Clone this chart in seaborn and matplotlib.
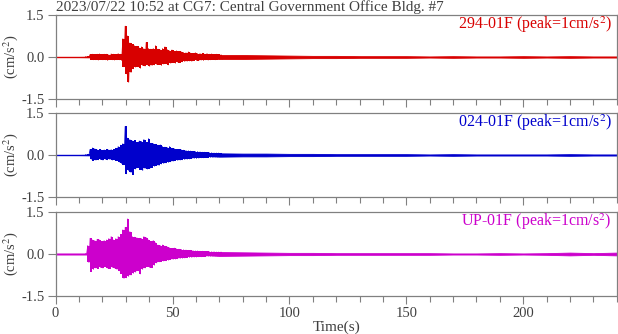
import numpy as np
import matplotlib
matplotlib.use('Agg')
import matplotlib.pyplot as plt
import seaborn as sns
from matplotlib.ticker import MultipleLocator, FixedLocator

title = '2023/07/22 10:52 at CG7: Central Government Office Bldg. #7'
channels = ['294-01F', '024-01F', 'UP-01F']
colors = ['#d80000', '#0000cc', '#cc00cc']

# strong-motion part: max / min of the trace for each second, from 13 s on
active_start = 13
red_hi = [.01, .02, .09, .10, .09, .10, .11, .09, .10, .10, .08, .11, .10, .09, .12, .10,
          .65, 1.10, .75, .50, .45, .40, .38, .32, .36, .30, .52, .30, .28, .30,
          .40, .28, .25, .30, .36, .26, .22, .25, .20, .22, .20, .18, .16, .15,
          .18, .14, .13, .15, .12, .12, .13, .10, .12, .10, .11, .09, .10, .09, .08]
red_lo = [-.01, -.02, -.09, -.10, -.10, -.11, -.09, -.10, -.10, -.12, -.09, -.10, -.11, -.10, -.10, -.12,
          -.35, -.60, -.90, -.55, -.42, -.36, -.35, -.40, -.30, -.32, -.28, -.33, -.30, -.28,
          -.26, -.27, -.30, -.25, -.24, -.28, -.22, -.20, -.22, -.18, -.20, -.17, -.16, -.15,
          -.14, -.15, -.13, -.12, -.13, -.11, -.12, -.10, -.11, -.10, -.09, -.10, -.09, -.08, -.08]
blue_hi = [.01, .02, .20, .25, .22, .18, .20, .17, .18, .20, .18, .19, .20, .24, .30, .35,
           .40, 1.02, .60, .55, .50, .52, .45, .50, .48, .55, .45, .58, .42, .40,
           .38, .35, .36, .30, .28, .26, .30, .24, .22, .20, .20, .18, .17, .16,
           .15, .14, .13, .12, .12, .11, .10, .10, .09, .08, .08, .07, .07, .07, .06]
blue_lo = [-.01, -.02, -.15, -.20, -.18, -.17, -.16, -.18, -.15, -.17, -.16, -.18, -.17, -.20, -.25, -.30,
           -.35, -.67, -.55, -.62, -.70, -.50, -.45, -.52, -.55, -.48, -.50, -.49, -.45, -.40,
           -.38, -.37, -.32, -.30, -.28, -.26, -.24, -.22, -.20, -.19, -.18, -.17, -.16, -.15,
           -.14, -.13, -.12, -.12, -.11, -.10, -.10, -.09, -.09, -.08, -.08, -.07, -.07, -.06, -.06]
mag_hi = [.01, .30, .56, .50, .48, .52, .50, .45, .48, .50, .55, .62, .50, .55, .62, .70,
          .86, .95, 1.25, .80, .62, .60, .58, .56, .55, .62, .58, .50, .45, .48,
          .40, .32, .30, .32, .28, .25, .22, .20, .21, .18, .17, .16, .15, .14,
          .13, .13, .12, .11, .11, .10, .10, .09, .09, .08, .08, .08, .07, .07, .07]
mag_lo = [-.01, -.30, -.63, -.55, -.50, -.52, -.48, -.50, -.45, -.50, -.52, -.48, -.50, -.55, -.60, -.70,
          -.87, -.85, -.80, -.75, -.69, -.65, -.60, -.71, -.55, -.50, -.45, -.48, -.49, -.40,
          -.32, -.28, -.27, -.25, -.24, -.22, -.20, -.19, -.18, -.17, -.16, -.15, -.14, -.13,
          -.12, -.12, -.11, -.11, -.10, -.10, -.09, -.09, -.08, -.08, -.08, -.07, -.07, -.07, -.06]

# quiet part: half width of the trace band every 10 s
quiet_t = [0, 10, 20, 30, 40, 50, 60, 70, 80, 90, 100, 110, 120, 130, 140, 150,
           160, 170, 180, 190, 200, 210, 220, 230, 240]
red_quiet = [.01, .01, .02, .02, .02, .02, .02, .07, .07, .06, .05, .04, .04, .03, .03, .03,
             .02, .03, .02, .02, .03, .02, .03, .02, .02]
blue_quiet = [.01, .01, .02, .02, .02, .02, .02, .06, .05, .05, .04, .04, .03, .03, .03, .03,
              .02, .03, .02, .02, .02, .02, .03, .02, .02]
mag_quiet = [.02, .02, .02, .02, .02, .02, .02, .07, .06, .05, .04, .04, .03, .03, .03, .03,
             .03, .02, .02, .03, .02, .03, .05, .03, .05]

highs = [red_hi, blue_hi, mag_hi]
lows = [red_lo, blue_lo, mag_lo]
quiets = [red_quiet, blue_quiet, mag_quiet]

sns.set_style('ticks')
plt.rcParams['font.family'] = ['Liberation Serif', 'DejaVu Serif']
plt.rcParams['mathtext.fontset'] = 'stix'
grey = '#808080'
txt = '#404040'

fig = plt.figure(figsize=(6.18, 3.34), dpi=100)
rects = [[0.090, 0.7036, 0.908, 0.2515],
         [0.090, 0.4102, 0.908, 0.2515],
         [0.090, 0.1138, 0.908, 0.2515]]

for i, rect in enumerate(rects):
    ax = fig.add_axes(rect)
    hi = np.array(highs[i])
    lo = np.array(lows[i])
    t = active_start + np.arange(len(hi))
    q = np.array(quiets[i])
    ax.fill_between(quiet_t, -q, q, color=colors[i], linewidth=0.6)
    # per-second min/max columns, like a dense trace drawn on screen
    ax.fill_between(t, lo, hi, step='mid', color=colors[i], linewidth=0)
    xs = np.column_stack([t - 0.25, t + 0.25]).ravel()
    ys = np.column_stack([hi, lo]).ravel()
    sns.lineplot(x=xs, y=ys, ax=ax, color=colors[i], linewidth=0.6,
                 estimator=None, sort=False)

    ax.set_xlim(0, 240)
    ax.set_ylim(-1.5, 1.5)
    ax.xaxis.set_major_locator(MultipleLocator(50))
    ax.xaxis.set_minor_locator(MultipleLocator(10))
    ax.yaxis.set_major_locator(FixedLocator([-1.5, 0, 1.5]))
    ax.yaxis.set_major_formatter(matplotlib.ticker.FormatStrFormatter('%.1f'))
    ax.tick_params(which='major', direction='out', length=6, width=0.8,
                   color=grey, labelcolor=txt, labelsize=10.5, pad=2)
    ax.tick_params(which='minor', direction='out', length=4, width=0.8, color=grey)
    for s in ax.spines.values():
        s.set_color(grey)
        s.set_linewidth(0.9)
    ax.set_ylabel(r'(cm/s$^2$)', color=txt, fontsize=10.5)
    ax.yaxis.set_label_coords(-0.063, 0.5)
    ax.text(0.991, 0.833, channels[i] + r' (peak=1cm/s$^2$)', color=colors[i],
            fontsize=11.5, ha='right', va='baseline', transform=ax.transAxes)
    if i < 2:
        ax.tick_params(labelbottom=False)
    else:
        ax.set_xlabel('Time(s)', color=txt, fontsize=11, labelpad=0)

fig.text(0.090, 0.966, title, color=txt, fontsize=11, ha='left', va='baseline')
fig.savefig('out.png', dpi=100)
